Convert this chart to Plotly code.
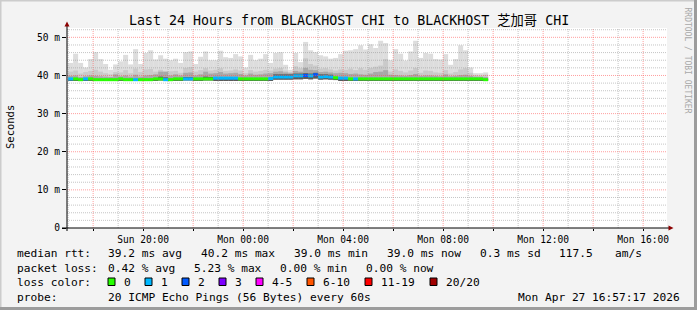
import plotly.graph_objects as go
import pandas as pd

# ---------------- data ----------------
title = "Last 24 Hours from BLACKHOST CHI to BLACKHOST 芝加哥 CHI"
range_start = "2026-04-26 16:57:17"
range_end = "2026-04-27 16:57:17"
first_step = "2026-04-26 17:00:00"   # 12-minute consolidated steps

median_ms = [
    39.1, 39.1, 38.9, 39.1, 39.1, 38.9, 38.9, 38.9, 38.9, 38.9,
    39.1, 38.9, 38.9, 38.9, 38.9, 38.9, 38.9, 39.1, 39.1, 38.9,
    38.9, 39.1, 39.1, 39.1, 39.1, 39.1, 39.1, 39.1, 39.1, 39.3,
    39.3, 39.3, 39.3, 39.3, 39.1, 39.1, 39.1, 39.1, 39.1, 39.1,
    39.2, 39.6, 39.6, 39.6, 39.6, 39.9, 39.9, 40.0, 39.9, 40.2,
    39.6, 39.7, 39.6, 39.4, 39.3, 39.3, 39.1, 39.1, 39.1, 39.1,
    39.1, 39.1, 39.1, 39.1, 39.1, 39.1, 39.1, 39.1, 39.1, 39.1,
    39.1, 39.1, 39.1, 39.1, 39.1, 39.1, 39.1, 39.1, 39.1, 39.1,
    39.1, 39.1, 39.1, 38.9,
]
loss_pings = [
    1, 0, 0, 1, 0, 0, 0, 0, 0, 0,
    0, 0, 0, 1, 0, 0, 0, 0, 0, 1,
    0, 0, 0, 1, 1, 0, 0, 0, 0, 1,
    1, 1, 1, 1, 0, 0, 0, 0, 0, 0,
    1, 1, 1, 1, 1, 1, 1, 2, 1, 2,
    1, 1, 1, 0, 1, 1, 0, 1, 0, 0,
    0, 0, 0, 0, 0, 0, 0, 0, 0, 0,
    0, 0, 0, 0, 0, 0, 0, 0, 0, 0,
    0, 0, 0, 0,
]
smoke_min = [
    38.7, 38.7, 38.7, 38.7, 38.7, 38.7, 38.7, 38.7, 38.7, 38.7,
    38.7, 38.7, 38.7, 38.7, 38.7, 38.7, 38.7, 38.7, 38.7, 38.7,
    38.7, 38.7, 38.7, 38.7, 38.7, 38.7, 38.7, 38.7, 38.7, 38.8,
    38.8, 38.8, 38.8, 38.8, 38.7, 38.7, 38.7, 38.7, 38.7, 38.7,
    38.8, 38.9, 38.9, 38.9, 38.9, 39.0, 39.0, 39.1, 39.0, 39.2,
    38.9, 39.0, 38.9, 38.8, 38.8, 38.8, 38.7, 38.7, 38.7, 38.7,
    38.7, 38.7, 38.7, 38.7, 38.7, 38.7, 38.7, 38.7, 38.7, 38.7,
    38.7, 38.7, 38.7, 38.7, 38.7, 38.7, 38.7, 38.7, 38.7, 38.7,
    38.7, 38.7, 38.7, 38.7,
]
smoke_max = [
    43.3, 45.7, 43.3, 42.1, 44.3, 46.1, 44.3, 43.0, 41.5, 42.9,
    43.7, 45.4, 42.9, 46.9, 43.0, 45.9, 46.6, 44.2, 45.3, 44.4,
    44.0, 44.4, 43.3, 46.1, 46.3, 43.0, 44.9, 46.3, 44.0, 44.0,
    46.5, 44.8, 44.6, 45.6, 45.0, 42.1, 45.4, 44.0, 44.4, 45.6,
    43.3, 45.9, 46.1, 42.8, 41.5, 45.9, 43.5, 48.8, 46.6, 46.1,
    45.3, 45.0, 44.4, 44.6, 45.6, 46.5, 46.6, 46.9, 47.9, 46.8,
    48.2, 47.2, 49.1, 48.5, 44.0, 46.9, 45.7, 43.9, 46.3, 49.1,
    44.6, 45.9, 45.7, 44.3, 44.2, 45.6, 42.8, 44.3, 47.9, 46.6,
    42.1, 40.6, 40.6, 40.8,
]
smoke_p2 = [
    41.0, 41.3, 40.5, 40.9, 41.2, 41.5, 41.0, 40.6, 40.3, 40.9,
    40.8, 41.4, 40.6, 41.8, 40.9, 41.6, 41.7, 41.0, 41.5, 41.0,
    41.1, 41.2, 40.7, 42.0, 42.2, 41.0, 41.4, 41.9, 41.3, 41.5,
    41.9, 41.2, 41.3, 41.6, 41.3, 40.6, 41.4, 41.0, 41.2, 41.5,
    41.3, 41.8, 42.0, 41.3, 40.9, 42.4, 41.9, 44.5, 43.0, 42.6,
    41.8, 41.9, 41.6, 41.3, 41.6, 41.5, 41.8, 41.4, 41.9, 41.5,
    42.0, 42.3, 42.6, 44.3, 41.0, 41.6, 41.2, 40.8, 41.3, 42.0,
    40.7, 41.3, 41.2, 40.8, 40.7, 41.4, 40.5, 40.9, 41.6, 41.9,
    40.7, 40.1, 40.0, 40.2,
]
smoke_p3 = [
    39.9, 40.0, 39.6, 39.8, 40.0, 39.9, 39.8, 39.7, 39.6, 40.3,
    39.8, 40.0, 39.7, 40.2, 39.7, 40.0, 40.1, 40.3, 41.0, 41.0,
    40.0, 40.3, 40.0, 40.7, 40.8, 40.0, 40.3, 41.0, 40.5, 40.6,
    40.9, 40.5, 40.6, 40.7, 40.4, 40.0, 40.5, 40.2, 40.3, 40.5,
    40.6, 41.0, 41.1, 40.8, 40.6, 41.2, 41.0, 42.0, 41.5, 41.4,
    40.9, 41.0, 40.8, 40.6, 40.7, 40.6, 40.4, 40.5, 40.3, 40.2,
    40.5, 40.9, 41.0, 41.4, 40.2, 40.1, 40.0, 39.9, 40.1, 40.4,
    39.9, 40.0, 40.0, 39.9, 39.8, 40.3, 39.8, 39.9, 40.1, 40.2,
    39.9, 39.7, 39.7, 39.6,
]
smoke_p4 = [
    39.1, 39.1, 38.9, 39.1, 39.1, 38.9, 38.9, 38.9, 38.9, 38.9,
    39.1, 38.9, 38.9, 38.9, 38.9, 38.9, 38.9, 39.1, 39.7, 39.5,
    38.9, 39.1, 39.1, 39.6, 39.6, 39.1, 39.1, 39.7, 39.6, 39.3,
    39.3, 39.3, 39.3, 39.3, 39.1, 39.1, 39.1, 39.1, 39.1, 39.1,
    39.2, 40.3, 40.3, 40.3, 40.3, 40.5, 40.5, 40.6, 40.5, 40.7,
    40.3, 40.3, 40.2, 39.4, 39.3, 39.3, 39.1, 39.1, 39.1, 39.1,
    39.1, 39.1, 39.1, 39.1, 39.1, 39.1, 39.1, 39.1, 39.1, 39.1,
    39.1, 39.1, 39.1, 39.1, 39.1, 39.1, 39.1, 39.1, 39.1, 39.1,
    39.1, 39.1, 39.1, 38.9,
]

y_tick_values = [0, 10, 20, 30, 40, 50]
y_tick_labels = ["0", "10 m", "20 m", "30 m", "40 m", "50 m"]
x_tick_start = "2026-04-26 18:00"
x_tick_labels = ["", "Sun 20:00", "", "Mon 00:00", "", "Mon 04:00", "",
                 "Mon 08:00", "", "Mon 12:00", "", "Mon 16:00"]

loss_colors = {0: "#26ff00", 1: "#00b8ff", 2: "#0059ff"}
legend_loss_labels = ["0", "1", "2", "3", "4-5", "6-10", "11-19", "20/20"]
legend_loss_colors = ["#26ff00", "#00b8ff", "#0059ff", "#7e00ff",
                      "#ff00ff", "#ff5500", "#ff0000", "#a10000"]
rtt_line = ["median rtt:", "39.2 ms avg", "40.2 ms max", "39.0 ms min",
            "39.0 ms now", "0.3 ms sd", "117.5", "am/s"]
loss_line = ["packet loss:", "0.42 % avg", "5.23 % max", "0.00 % min", "0.00 % now"]
probe_line = ["probe:", "20 ICMP Echo Pings (56 Bytes) every 60s"]
timestamp_text = "Mon Apr 27 16:57:17 2026"
y_title = "Seconds"
watermark = "RRDTOOL / TOBI OETIKER"

# ---------------- figure ----------------
W, H = 697, 310
PL, PR, PT, PB = 67, 667, 28, 228
YMAX = 52.45


def px(x):
    return (x - PL) / (PR - PL)


def py(y):
    return (PB - y) / (PB - PT)


step_ms = 12 * 60 * 1000
centers = pd.date_range(pd.Timestamp(first_step) + pd.Timedelta(minutes=6),
                        periods=len(median_ms), freq="12min")

fig = go.Figure()
layers = [(smoke_max, "#dddddd"), (smoke_p2, "#cacaca"),
          (smoke_p3, "#a8a8a8"), (smoke_p4, "#5a5a5a")]
for top, col in layers:
    fig.add_trace(go.Bar(
        x=centers, base=smoke_min,
        y=[t - b for t, b in zip(top, smoke_min)],
        width=step_ms, marker=dict(color=col, line=dict(width=0)),
        hoverinfo="skip", showlegend=False))

half = 0.4
fig.add_trace(go.Bar(
    x=centers, base=[m - half for m in median_ms], y=[2 * half] * len(median_ms),
    width=step_ms,
    marker=dict(color=[loss_colors[l] for l in loss_pings], line=dict(width=0)),
    hoverinfo="skip", showlegend=False))

shapes = []
# grid (drawn over the smoke like rrdtool)
hours = pd.date_range("2026-04-26 17:00", "2026-04-27 16:00", freq="1h")
for h in hours:
    major = h.hour % 2 == 0
    shapes.append(dict(type="line", xref="x", yref="paper", x0=h, x1=h, y0=0, y1=1,
                       layer="above",
                       line=dict(color="rgba(255,80,80,0.55)" if major else "rgba(150,150,150,0.55)",
                                 width=1, dash="1px,1px")))
for v in range(2, 53, 2):
    major = v % 10 == 0
    shapes.append(dict(type="line", xref="paper", yref="y", x0=0, x1=1, y0=v, y1=v,
                       layer="above",
                       line=dict(color="rgba(255,80,80,0.55)" if major else "rgba(150,150,150,0.55)",
                                 width=1, dash="1px,1px")))
# axes with arrows
shapes.append(dict(type="line", xref="paper", yref="paper", x0=px(62), x1=px(669),
                   y0=0, y1=0, line=dict(color="#000000", width=1), layer="above"))
shapes.append(dict(type="line", xref="paper", yref="paper", x0=0, x1=0,
                   y0=py(231), y1=py(25), line=dict(color="#000000", width=1), layer="above"))
shapes.append(dict(type="path", xref="paper", yref="paper", layer="above",
                   path=f"M {px(64.5)} {py(26.5)} L {px(69.5)} {py(26.5)} L {px(67)} {py(21.5)} Z",
                   fillcolor="#8b0000", line=dict(width=0)))
shapes.append(dict(type="path", xref="paper", yref="paper", layer="above",
                   path=f"M {px(668.5)} {py(225.5)} L {px(668.5)} {py(230.5)} L {px(673.5)} {py(228)} Z",
                   fillcolor="#8b0000", line=dict(width=0)))
# frame
shapes.append(dict(type="rect", xref="paper", yref="paper", x0=px(0), x1=px(697),
                   y0=py(0), y1=py(1.5), fillcolor="#cccccc", line=dict(width=0)))
shapes.append(dict(type="rect", xref="paper", yref="paper", x0=px(0), x1=px(1.5),
                   y0=py(0), y1=py(310), fillcolor="#cccccc", line=dict(width=0)))
shapes.append(dict(type="rect", xref="paper", yref="paper", x0=px(0), x1=px(697),
                   y0=py(307), y1=py(310), fillcolor="#9c9c9c", line=dict(width=0)))
shapes.append(dict(type="rect", xref="paper", yref="paper", x0=px(694), x1=px(697),
                   y0=py(0), y1=py(310), fillcolor="#9c9c9c", line=dict(width=0)))

MONO = "DejaVu Sans Mono, Noto Sans CJK SC, monospace"
annotations = []


def text(s, x, y, size=11.2, anchor="left", color="#000000", angle=0):
    annotations.append(dict(text=s, x=px(x), y=py(y), xref="paper", yref="paper",
                            xanchor=anchor, yanchor="middle", showarrow=False,
                            textangle=angle, borderpad=0,
                            font=dict(family=MONO, size=size, color=color)))


text(title, 348.5, 20.5, size=13.3, anchor="center")
text(y_title, 10, 127, size=10.5, anchor="center", angle=-90)
text(watermark, 687.5, 60, size=8, anchor="center", color="#a8a8a8", angle=90)

rtt_x = [16, 107, 200, 293, 386, 479, 558, 614]
for s, x in zip(rtt_line, rtt_x):
    text(s, x, 253.5)
loss_x = [16, 107, 193, 279, 365]
for s, x in zip(loss_line, loss_x):
    text(s, x, 268.5)
text("loss color:", 16, 282)
sq_x = [108, 145, 182, 219, 256, 307, 365, 430]
lab_x = [123, 160, 197, 234, 271, 322, 380, 445]
for lab, col, sx, lx in zip(legend_loss_labels, legend_loss_colors, sq_x, lab_x):
    shapes.append(dict(type="rect", xref="paper", yref="paper",
                       x0=px(sx), x1=px(sx + 7), y0=py(278), y1=py(285.5),
                       fillcolor=col, line=dict(color="#000000", width=1)))
    text(lab, lx, 282)
text(probe_line[0], 16, 297)
text(probe_line[1], 107, 297)
text(timestamp_text, 681, 297, anchor="right")

fig.update_layout(
    width=W, height=H,
    margin=dict(l=PL, r=W - PR, t=PT, b=H - PB, pad=0),
    paper_bgcolor="#f3f3f3", plot_bgcolor="#ffffff",
    barmode="overlay", showlegend=False,
    shapes=shapes, annotations=annotations,
    font=dict(family=MONO, size=9.6, color="#000000"),
    xaxis=dict(type="date", range=[range_start, range_end],
               tickmode="array",
               tickvals=pd.date_range(x_tick_start, periods=len(x_tick_labels), freq="2h"),
               ticktext=x_tick_labels, ticks="outside", ticklen=2, tickcolor="#000000",
               showgrid=False, zeroline=False, showline=False,
               tickfont=dict(family=MONO, size=9.6)),
    yaxis=dict(range=[0, YMAX], tickmode="array", tickvals=y_tick_values,
               ticktext=y_tick_labels, ticks="outside", ticklen=4, tickcolor="#000000",
               showgrid=False, zeroline=False, showline=False,
               tickfont=dict(family=MONO, size=9.6)),
)

fig.write_html("out.html")
